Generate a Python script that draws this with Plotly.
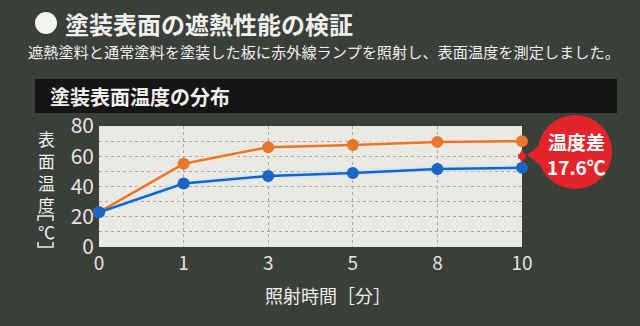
import plotly.graph_objects as go

# Irradiation time [min] and measured surface temperatures [°C]
times = ["0", "1", "3", "5", "8", "10"]
normal_paint = [23, 55, 66, 67.5, 69.5, 70.0]      # 通常塗料
heat_shield = [23, 42, 47, 49, 51.5, 52.4]         # 遮熱塗料
y_ticks = [0, 10, 20, 30, 40, 50, 60, 70, 80]
y_tick_text = ["0", "", "20", "", "40", "", "60", "", "80"]
y_title_chars = ["表", "面", "温", "度"]

diff = normal_paint[-1] - heat_shield[-1]

W, H = 640, 326
ML, MR, MT, MB = 99, 118, 126, 79
PW, PH = W - ML - MR, H - MT - MB

FONT = "Noto Sans CJK JP"
BG = "#3b3f3a"
ORANGE = "#e8772c"
BLUE = "#1766c6"
RED = "#e3242b"
TXT = "#f0f0ee"


def px(x):
    return (x - ML) / PW


def py(y):
    return (H - MB - y) / PH


fig = go.Figure()

# soft halos under the lines
fig.add_trace(go.Scatter(x=times, y=normal_paint, mode="lines",
                         line=dict(color="rgba(255,235,215,0.7)", width=6),
                         hoverinfo="skip", showlegend=False, cliponaxis=False))
fig.add_trace(go.Scatter(x=times, y=heat_shield, mode="lines",
                         line=dict(color="rgba(205,230,255,0.7)", width=6),
                         hoverinfo="skip", showlegend=False, cliponaxis=False))

fig.add_trace(go.Scatter(x=times, y=normal_paint, mode="lines+markers",
                         name="通常塗料",
                         line=dict(color=ORANGE, width=2.5),
                         marker=dict(color=ORANGE, size=12),
                         showlegend=False, cliponaxis=False))
fig.add_trace(go.Scatter(x=times, y=heat_shield, mode="lines+markers",
                         name="遮熱塗料",
                         line=dict(color=BLUE, width=2.5),
                         marker=dict(color=BLUE, size=12),
                         showlegend=False, cliponaxis=False))

shapes = [
    # title bullet
    dict(type="circle", xref="paper", yref="paper",
         x0=px(35), x1=px(57), y0=py(34), y1=py(12),
         fillcolor="#f2f2f0", line=dict(width=0)),
    # section header bar
    dict(type="rect", xref="paper", yref="paper",
         x0=px(35), x1=px(617), y0=py(113), y1=py(79),
         fillcolor="#161515", line=dict(width=0), layer="below"),
    # callout bubble
    dict(type="circle", xref="paper", yref="paper",
         x0=px(538), x1=px(612), y0=py(189), y1=py(115),
         fillcolor=RED, line=dict(width=0)),
    dict(type="path", xref="paper", yref="paper",
         path=f"M {px(527)} {py(155)} L {px(550)} {py(137)} L {px(550)} {py(172)} Z",
         fillcolor=RED, line=dict(width=0)),
    # vertical-form brackets around the unit
    dict(type="path", xref="paper", yref="paper",
         path=f"M {px(38)} {py(221)} L {px(38)} {py(216)} L {px(53)} {py(216)} L {px(53)} {py(221)}",
         line=dict(color=TXT, width=1.5)),
    dict(type="path", xref="paper", yref="paper",
         path=f"M {px(38)} {py(242)} L {px(38)} {py(247)} L {px(53)} {py(247)} L {px(53)} {py(242)}",
         line=dict(color=TXT, width=1.5)),
]

annotations = [
    dict(text="<b>塗装表面の遮熱性能の検証</b>", x=px(64), y=py(23),
         font=dict(size=24, color=TXT, family=FONT)),
    dict(text="遮熱塗料と通常塗料を塗装した板に赤外線ランプを照射し、表面温度を測定しました。",
         x=px(27), y=py(51), font=dict(size=15.2, color=TXT, family=FONT)),
    dict(text="<b>塗装表面温度の分布</b>", x=px(49), y=py(96),
         font=dict(size=20, color=TXT, family=FONT)),
    # vertically stacked y-axis title
    dict(text="<br>".join(y_title_chars), x=px(46), y=py(172), xanchor="center",
         font=dict(size=16.8, color=TXT, family=FONT)),
    dict(text="℃", x=px(46), y=py(231), xanchor="center",
         font=dict(size=17, color=TXT, family=FONT)),
    dict(text="照射時間［分］", x=px(328), y=py(295), xanchor="center",
         font=dict(size=18, color=TXT, family=FONT)),
    dict(text=f"<b>温度差</b><br><b>{diff:.1f}℃</b>", x=px(576), y=py(154),
         xanchor="center", align="center",
         font=dict(size=19, color="#ffffff", family=FONT)),
]
for a in annotations:
    a.setdefault("xanchor", "left")
    a.update(xref="paper", yref="paper", yanchor="middle", showarrow=False,
             borderpad=0)

# double-headed marker for the temperature gap at 10 min
annotations.append(dict(
    x=5, y=heat_shield[-1] + 3, ax=5, ay=normal_paint[-1] - 4.5,
    xref="x", yref="y", axref="x", ayref="y", text="",
    showarrow=True, arrowhead=2, startarrowhead=2, arrowside="end+start",
    arrowsize=0.9, startarrowsize=0.9, arrowwidth=2, arrowcolor=RED))

fig.update_layout(
    width=W, height=H,
    margin=dict(l=ML, r=MR, t=MT, b=MB, pad=0),
    paper_bgcolor=BG, plot_bgcolor="#ebe9e5",
    font=dict(family=FONT, color=TXT),
    shapes=shapes, annotations=annotations,
    xaxis=dict(type="category", range=[0, 5], showline=False, zeroline=False,
               showgrid=True, gridcolor="#a9a9a6", griddash="dot", gridwidth=1,
               ticks="", ticklabelstandoff=3,
               tickfont=dict(size=19, color="#e4e4e2", family=FONT),
               fixedrange=True),
    yaxis=dict(range=[0, 80], tickvals=y_ticks, ticktext=y_tick_text,
               showline=False, zeroline=False,
               showgrid=True, gridcolor="#a9a9a6", griddash="dot", gridwidth=1,
               ticks="", ticklabelstandoff=4,
               tickfont=dict(size=21, color="#e4e4e2", family=FONT),
               fixedrange=True),
)

fig.write_html("out.html")
